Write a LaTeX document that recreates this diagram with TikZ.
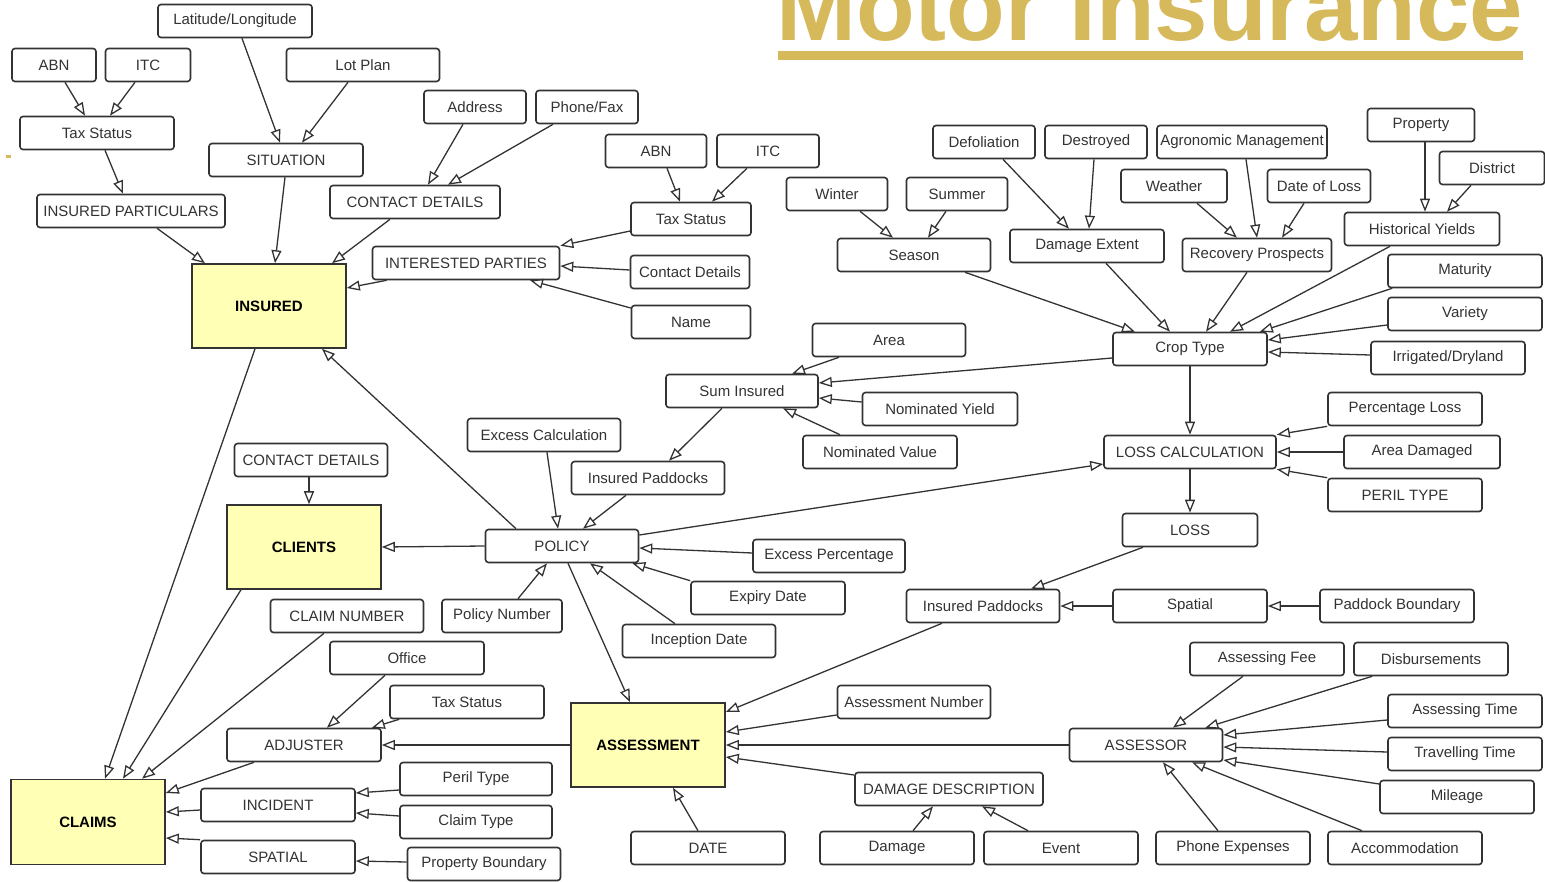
\documentclass[tikz,border=0pt]{standalone}
\usepackage{fontspec}
\setmainfont{Liberation Sans}
\usepackage{tikz}
\usetikzlibrary{arrows.meta}
\definecolor{gold}{RGB}{214,185,90}
\definecolor{paleyellow}{RGB}{255,255,181}
\definecolor{ink}{RGB}{51,51,51}

\begin{document}
\begin{tikzpicture}[x=1pt,y=-1pt,
    box/.style={draw=ink,line width=1.6pt,rounded corners=3pt,fill=white,text=ink,
      minimum width=154pt,minimum height=33pt,inner sep=0pt,font=\fontsize{15}{18}\selectfont},
    entity/.style={draw=ink,line width=1.6pt,fill=paleyellow,text=black,
      minimum width=154pt,minimum height=84pt,inner sep=0pt,font=\fontsize{15}{18}\selectfont\bfseries},
    dep/.style={draw=ink,line width=1.3pt,-{Triangle[open,length=13pt,width=10pt]}}]
    \useasboundingbox (0,0) rectangle (1545,881);

    \node[anchor=base west,inner sep=0pt,text=gold,font=\fontsize{96}{100}\selectfont\bfseries] (title) at (776,40) {Motor Insurance};
    \fill[gold] (778,51) rectangle (1523,60);
    \fill[gold] (6,155) rectangle (11,158);

    \node[box, minimum width=84pt] (abn) at (54,65) {ABN};
    \node[box, minimum width=85pt] (itc) at (148,65) {ITC};
    \node[box] (latlong) at (235,21) {Latitude/Longitude};
    \node[box, minimum width=153pt] (lotplan) at (363,65) {Lot Plan};
    \node[box] (taxa) at (97,133) {Tax Status};
    \node[box] (situation) at (286,160) {SITUATION};
    \node[box, minimum width=102pt] (address) at (475,107) {Address};
    \node[box, minimum width=102pt] (phonefax) at (587,107) {Phone/Fax};
    \node[box, minimum width=188pt] (particulars) at (131,211) {INSURED PARTICULARS};
    \node[box, minimum width=170pt] (contacta) at (415,202) {CONTACT DETAILS};
    \node[box, minimum width=101pt] (abnb) at (656,151) {ABN};
    \node[box, minimum width=102pt] (itcb) at (768,151) {ITC};
    \node[box, minimum width=120pt] (taxb) at (691,219) {Tax Status};
    \node[box, minimum width=187pt] (parties) at (466,263) {INTERESTED PARTIES};
    \node[box, minimum width=119pt] (contactb) at (690,272) {Contact Details};
    \node[box, minimum width=119pt] (name) at (691,322) {Name};
    \node[entity] (insured) at (269,306) {INSURED};
    \node[box, minimum width=153pt] (area) at (889,340) {Area};
    \node[box, minimum width=152pt] (suminsured) at (742,391) {Sum Insured};
    \node[box, minimum width=155pt] (nomyield) at (940,409) {Nominated Yield};
    \node[box, minimum width=153pt] (excesscalc) at (544,435) {Excess Calculation};
    \node[box] (nomvalue) at (880,452) {Nominated Value};
    \node[box, minimum width=153pt] (contactc) at (311,460) {CONTACT DETAILS};
    \node[box, minimum width=153pt] (paddocksa) at (648,478) {Insured Paddocks};
    \node[entity] (clients) at (304,547) {CLIENTS};
    \node[box, minimum width=153pt] (policy) at (562,546) {POLICY};
    \node[box, minimum width=152pt] (excesspct) at (829,556) {Excess Percentage};
    \node[box] (expiry) at (768,598) {Expiry Date};
    \node[box, minimum width=153pt] (claimno) at (347,616) {CLAIM NUMBER};
    \node[box, minimum width=120pt] (policyno) at (502,616) {Policy Number};
    \node[box, minimum width=153pt] (inception) at (699,641) {Inception Date};
    \node[box] (office) at (407,658) {Office};
    \node[box] (taxc) at (467,702) {Tax Status};
    \node[box] (adjuster) at (304,745) {ADJUSTER};
    \node[entity] (assessment) at (648,745) {ASSESSMENT};
    \node[box, minimum width=153pt] (assessno) at (914,702) {Assessment Number};
    \node[box, minimum width=152pt] (periltype) at (476,779) {Peril Type};
    \node[box] (incident) at (278,805) {INCIDENT};
    \node[entity, minimum height=85pt] (claims) at (88,822) {CLAIMS};
    \node[box, minimum width=152pt] (claimtype) at (476,822) {Claim Type};
    \node[box] (spatiala) at (278,857) {SPATIAL};
    \node[box, minimum width=153pt] (propbound) at (484,864) {Property Boundary};
    \node[box] (date) at (708,848) {DATE};
    \node[box, minimum width=188pt] (damagedesc) at (949,789) {DAMAGE DESCRIPTION};
    \node[box] (damage) at (897,848) {Damage};
    \node[box] (event) at (1061,848) {Event};
    \node[box, minimum width=153pt] (assessor) at (1146,745) {ASSESSOR};
    \node[box] (phone) at (1233,848) {Phone Expenses};
    \node[box] (accom) at (1405,848) {Accommodation};
    \node[box] (assessfee) at (1267,659) {Assessing Fee};
    \node[box] (disburse) at (1431,659) {Disbursements};
    \node[box] (assesstime) at (1465,711) {Assessing Time};
    \node[box] (traveltime) at (1465,754) {Travelling Time};
    \node[box] (mileage) at (1457,797) {Mileage};
    \node[box, minimum width=153pt] (paddocksb) at (983,606) {Insured Paddocks};
    \node[box] (spatialb) at (1190,606) {Spatial};
    \node[box] (paddockbound) at (1397,606) {Paddock Boundary};
    \node[box, minimum width=135pt] (loss) at (1190,530) {LOSS};
    \node[box, minimum width=172pt] (losscalc) at (1190,452) {LOSS CALCULATION};
    \node[box] (pctloss) at (1405,409) {Percentage Loss};
    \node[box, minimum width=156pt] (areadamaged) at (1422,452) {Area Damaged};
    \node[box] (periltypeb) at (1405,495) {PERIL TYPE};
    \node[box] (croptype) at (1190,349) {Crop Type};
    \node[box] (irrigated) at (1448,358) {Irrigated/Dryland};
    \node[box] (variety) at (1465,314) {Variety};
    \node[box] (maturity) at (1465,271) {Maturity};
    \node[box, minimum width=155pt] (histyields) at (1422,229) {Historical Yields};
    \node[box, minimum width=107pt] (property) at (1421,125) {Property};
    \node[box, minimum width=105pt] (district) at (1492,168) {District};
    \node[box, minimum width=101pt] (winter) at (837,194) {Winter};
    \node[box, minimum width=101pt] (summer) at (957,194) {Summer};
    \node[box, minimum width=153pt] (season) at (914,255) {Season};
    \node[box, minimum width=102pt] (defoliation) at (984,142) {Defoliation};
    \node[box, minimum width=102pt] (destroyed) at (1096,142) {Destroyed};
    \node[box, minimum width=170pt] (agronomic) at (1242,142) {Agronomic Management};
    \node[box] (damageext) at (1087,246) {Damage Extent};
    \node[box, minimum width=106pt] (weather) at (1174,186) {Weather};
    \node[box, minimum width=103pt] (dateloss) at (1319,186) {Date of Loss};
    \node[box, minimum width=149pt] (recovery) at (1257,255) {Recovery Prospects};

    % insured side
    \draw[dep] ([xshift=11]abn.south) -- ([xshift=-12]taxa.north);
    \draw[dep] ([xshift=-13]itc.south) -- ([xshift=13]taxa.north);
    \draw[dep] ([xshift=8]taxa.south) -- ([xshift=-8]particulars.north);
    \draw[dep] ([xshift=7]latlong.south) -- ([xshift=-6]situation.north);
    \draw[dep] ([xshift=-15]lotplan.south) -- ([xshift=16]situation.north);
    \draw[dep] ([xshift=26]particulars.south) -- ([xshift=-64]insured.north);
    \draw[dep] ([xshift=-1]situation.south) -- ([xshift=6]insured.north);
    \draw[dep] ([xshift=-12]address.south) -- ([xshift=13]contacta.north);
    \draw[dep] ([xshift=-34]phonefax.south) -- ([xshift=33]contacta.north);
    \draw[dep] ([xshift=-25]contacta.south) -- ([xshift=63]insured.north);
    \draw[dep] ([xshift=15]parties.south west) -- ([yshift=18]insured.east);
    \draw[dep] ([xshift=11]abnb.south) -- ([xshift=-11]taxb.north);
    \draw[dep] ([xshift=-21]itcb.south) -- ([xshift=21]taxb.north);
    \draw[dep] ([yshift=-12]taxb.west) -- (parties.north east);
    \draw[dep] ([yshift=2]contactb.west) -- ([yshift=-3]parties.east);
    \draw[dep] ([yshift=14]name.west) -- ([xshift=64]parties.south);
    \draw[dep] ([xshift=-46]policy.north) -- ([xshift=53]insured.south);
    \draw[dep] ([xshift=-14]insured.south) -- ([xshift=17]claims.north);

    % clients and claims
    \draw[dep] ([xshift=-2]contactc.south) -- ([xshift=5]clients.north);
    \draw[dep] (policy.west) -- (clients.east);
    \draw[dep] ([xshift=-63]clients.south) -- ([xshift=35]claims.north);
    \draw[dep] ([xshift=-23]claimno.south) -- ([xshift=54]claims.north);
    \draw[dep] ([xshift=-50]adjuster.south) -- ([yshift=29]claims.east);
    \draw[dep] ([yshift=-5]incident.west) -- ([yshift=10]claims.east);
    \draw[dep] (spatiala.north west) -- ([yshift=-16]claims.east);
    \draw[dep] ([xshift=-22]office.south) -- ([xshift=23]adjuster.north);
    \draw[dep] ([xshift=10]taxc.south west) -- ([xshift=-10]adjuster.north east);
    \draw[dep] (assessment.west) -- (adjuster.east);
    \draw[dep] ([yshift=-11]periltype.west) -- ([yshift=12]incident.east);
    \draw[dep] ([yshift=6]claimtype.west) -- ([yshift=-8]incident.east);
    \draw[dep] ([yshift=2]propbound.west) -- ([yshift=-4]spatiala.east);

    % policy
    \draw[dep] ([xshift=6]policy.south) -- ([xshift=-18]assessment.north);
    \draw[dep] ([xshift=16]policyno.north) -- ([xshift=-15]policy.south);
    \draw[dep] ([xshift=-24]inception.north) -- ([xshift=28]policy.south);
    \draw[dep] (expiry.north west) -- ([xshift=-7]policy.south east);
    \draw[dep] ([yshift=3]excesspct.west) -- ([yshift=-2]policy.east);
    \draw[dep] ([xshift=3]excesscalc.south) -- ([xshift=-4]policy.north);
    \draw[dep] ([xshift=-22]paddocksa.south) -- ([xshift=21]policy.north);
    \draw[dep] ([xshift=-20]suminsured.south) -- ([xshift=21]paddocksa.north);
    \draw[dep] ([xshift=-50]area.south) -- ([xshift=50]suminsured.north);
    \draw[dep] ([yshift=7]nomyield.west) -- ([yshift=-7]suminsured.east);
    \draw[dep] ([xshift=-40]nomvalue.north) -- ([xshift=41]suminsured.south);
    \draw[dep] ([yshift=-9]croptype.west) -- ([yshift=8]suminsured.east);
    \draw[dep] ([yshift=11]policy.east) -- ([yshift=-12]losscalc.west);

    % loss
    \draw[dep] (croptype.south) -- (losscalc.north);
    \draw[dep] (losscalc.south) -- (loss.north);
    \draw[dep] (pctloss.south west) -- (losscalc.north east);
    \draw[dep] (areadamaged.west) -- (losscalc.east);
    \draw[dep] (periltypeb.north west) -- (losscalc.south east);
    \draw[dep] ([xshift=-47]loss.south) -- ([xshift=48]paddocksb.north);
    \draw[dep] (spatialb.west) -- (paddocksb.east);
    \draw[dep] (paddockbound.west) -- (spatialb.east);

    % assessment
    \draw[dep] ([xshift=-41]paddocksb.south) -- ([yshift=33]assessment.east);
    \draw[dep] ([yshift=-13]assessno.west) -- ([yshift=13]assessment.east);
    \draw[dep] (assessor.west) -- (assessment.east);
    \draw[dep] ([yshift=14]damagedesc.west) -- ([yshift=-12]assessment.east);
    \draw[dep] ([xshift=-10]date.north) -- ([xshift=25]assessment.south);
    \draw[dep] ([xshift=16]damage.north) -- ([xshift=-16]damagedesc.south);
    \draw[dep] ([xshift=-33]event.north) -- ([xshift=33]damagedesc.south);
    \draw[dep] ([xshift=-24]assessfee.south) -- ([xshift=27]assessor.north);
    \draw[dep] ([xshift=19]disburse.south west) -- ([xshift=-18]assessor.north east);
    \draw[dep] ([yshift=-9]assesstime.west) -- ([yshift=10]assessor.east);
    \draw[dep] ([yshift=2]traveltime.west) -- ([yshift=-2]assessor.east);
    \draw[dep] ([yshift=13]mileage.west) -- ([yshift=-15]assessor.east);
    \draw[dep] ([xshift=-43]accom.north) -- ([xshift=46]assessor.south);
    \draw[dep] ([xshift=-15]phone.north) -- ([xshift=17]assessor.south);

    % crop type
    \draw[dep] ([xshift=51]season.south) -- ([xshift=-55]croptype.north);
    \draw[dep] ([xshift=19]damageext.south) -- ([xshift=-20]croptype.north);
    \draw[dep] ([xshift=-10]recovery.south) -- ([xshift=16]croptype.north);
    \draw[dep] ([xshift=-32]histyields.south) -- ([xshift=40]croptype.north);
    \draw[dep] ([xshift=5]maturity.south west) -- ([xshift=-8]croptype.north east);
    \draw[dep] ([yshift=-11]variety.west) -- ([yshift=9]croptype.east);
    \draw[dep] ([yshift=3]irrigated.west) -- ([yshift=-3]croptype.east);
    \draw[dep] ([xshift=23]winter.south) -- ([xshift=-21]season.north);
    \draw[dep] ([xshift=-11]summer.south) -- ([xshift=14]season.north);
    \draw[dep] ([xshift=19]defoliation.south) -- ([xshift=-18]damageext.north);
    \draw[dep] ([xshift=-2]destroyed.south) -- ([xshift=2]damageext.north);
    \draw[dep] ([xshift=23]weather.south) -- ([xshift=-20]recovery.north);
    \draw[dep] ([xshift=4]agronomic.south) -- (recovery.north);
    \draw[dep] ([xshift=-15]dateloss.south) -- ([xshift=25]recovery.north);
    \draw[dep] ([xshift=4]property.south) -- ([xshift=3]histyields.north);
    \draw[dep] ([xshift=-21]district.south) -- ([xshift=25]histyields.north);
\end{tikzpicture}
\end{document}
